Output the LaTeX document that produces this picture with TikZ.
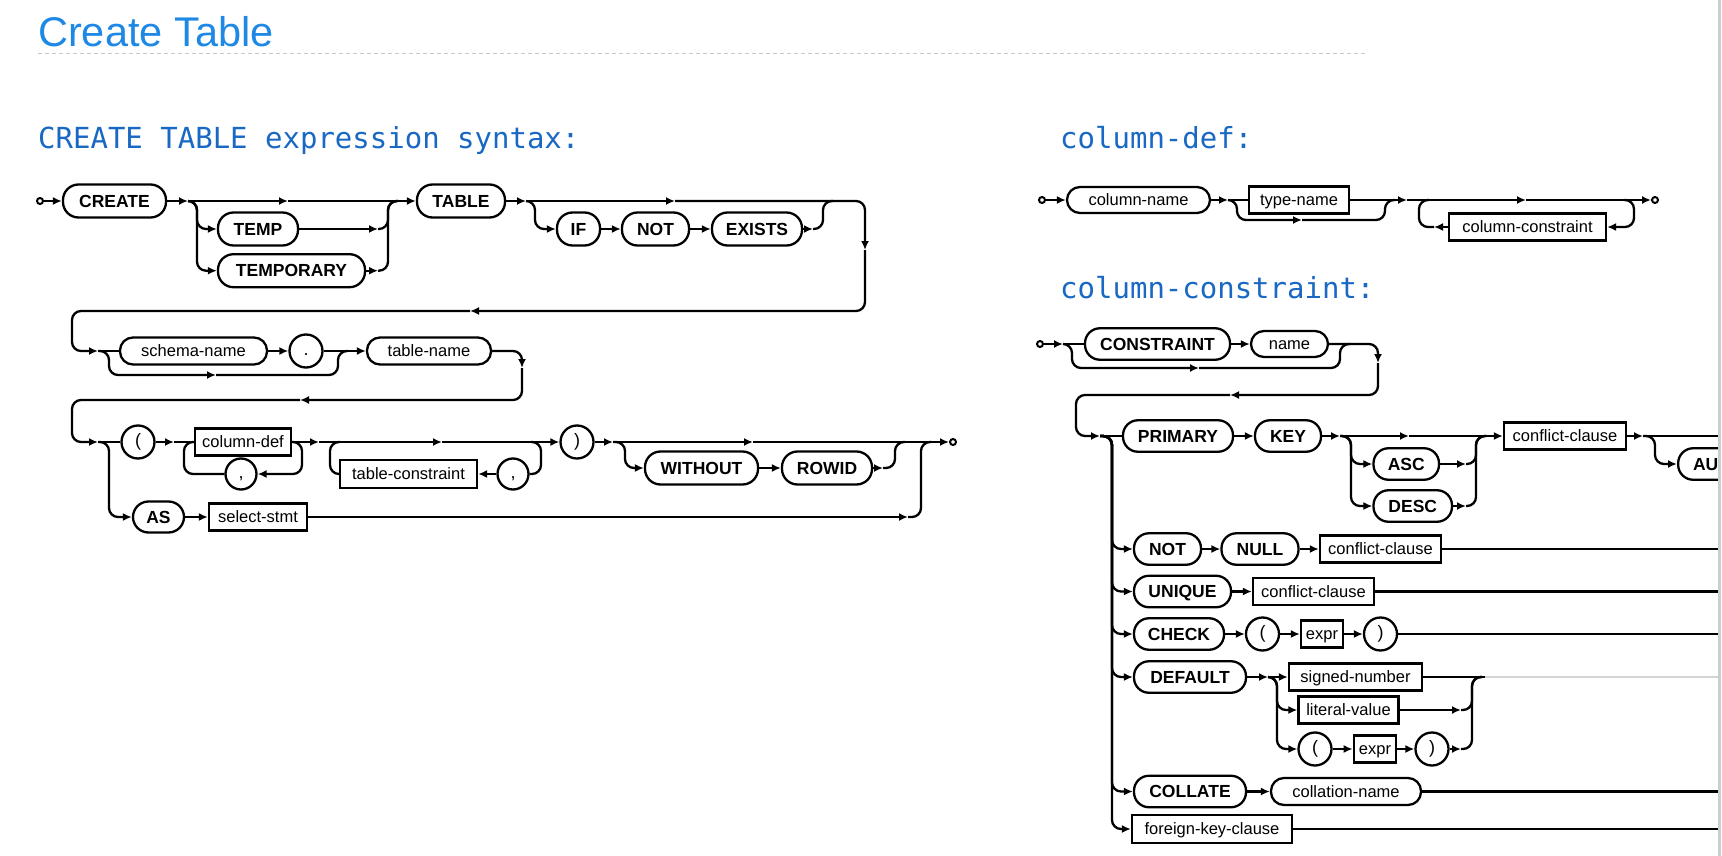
\documentclass[tikz,border=0pt]{standalone}
\usepackage{fontspec}
\setmainfont{Liberation Sans}
\newfontfamily\hdmono{DejaVu Sans Mono}
\usetikzlibrary{arrows.meta}
\definecolor{titleblue}{RGB}{30,136,229}
\definecolor{headblue}{RGB}{24,104,196}
\definecolor{sepgray}{RGB}{200,200,200}
\definecolor{edgegray}{RGB}{205,205,205}
\definecolor{fadegray}{RGB}{212,212,212}
\begin{document}
\begin{tikzpicture}[x=1pt,y=-1pt,
  rl/.style={line width=2.3pt, rounded corners=9pt},
  ar/.style={-{Latex[length=9pt,width=8pt]}},
  kw/.style={draw, line width=2.3pt, rounded corners=15.5pt, minimum height=33pt, inner sep=0pt,
     font=\fontsize{17.5}{20}\selectfont\bfseries, text height=12.5pt, text depth=0pt},
  kws/.style={kw, minimum height=31.5pt, rounded corners=15pt},
  nm/.style={draw, line width=2.3pt, rounded corners=13pt, minimum height=27pt, inner sep=0pt,
     font=\fontsize{16.5}{19}\selectfont, text height=11.8pt, text depth=0pt},
  nt/.style={draw, line width=2.3pt, minimum height=27pt, inner sep=0pt,
     font=\fontsize{16.5}{19}\selectfont, text height=11.8pt, text depth=0pt},
  ci/.style={draw, circle, line width=2.3pt, minimum size=33pt, inner sep=0pt,
     font=\fontsize{18}{20}\selectfont, text height=12.5pt, text depth=3.7pt},
  dt/.style={draw, circle, line width=2pt, minimum size=6pt, inner sep=0pt},
  hd/.style={anchor=base west, inner sep=0pt, text=headblue, font=\hdmono\fontsize{29}{32}\selectfont},
]
\useasboundingbox (0,0) rectangle (1722,856);
\fill[white] (0,0) rectangle (1722,856);

% ---------- header ----------
\node[anchor=base west, inner sep=0pt, text=titleblue, font=\fontsize{41.5}{48}\selectfont] (title) at (38,46.5) {Create Table};
\draw[sepgray, line width=1pt, dash pattern=on 4pt off 3pt] (38,53.5) -- (1367,53.5);
\node[hd] (h1) at (38,149) {CREATE TABLE expression syntax:};
\node[hd] (h2) at (1060,149) {column-def:};
\node[hd] (h3) at (1060,298.5) {column-constraint:};

% ---------- CREATE TABLE: row 1 ----------
\node[dt] (s1) at (40,201) {};
\node[kw, minimum width=103pt] (create) at (114.5,201) {CREATE};
\coordinate (c1) at (188,201);
\coordinate (m1) at (288,201);
\node[kw, minimum width=80pt] (temp) at (258,229) {TEMP};
\node[kw, minimum width=147pt] (temporary) at (291.5,270.7) {TEMPORARY};
\coordinate (j1a) at (378,229);
\coordinate (j1b) at (378,270.7);
\node[kw, minimum width=88pt] (table) at (461,201) {TABLE};
\coordinate (c2) at (526,201);
\coordinate (m2) at (675,201);
\node[kw, minimum width=43pt] (if) at (578.5,229) {IF};
\node[kw, minimum width=67pt] (not1) at (655.5,229) {NOT};
\node[kw, minimum width=90pt] (exists) at (757,229) {EXISTS};
\coordinate (j2) at (813,229);
\coordinate (dn1) at (865,250);
\coordinate (lf1) at (470,311);
\coordinate (c3) at (98,351);

\draw[rl,ar] (s1) -- (create);
\draw[rl,ar] (create.east) -- (c1);
\draw[rl,ar] (c1) -- (m1);
\draw[rl,ar] (m1) -- (table.west);
\draw[rl,ar] (c1) -- (197,201) -- (197,229) -- (temp.west);
\draw[rl,ar] (c1) -- (197,201) -- (197,270.7) -- (temporary.west);
\draw[rl,ar] (temp.east) -- (j1a);
\draw[rl] (j1a) -- (388,229) -- (388,201) -- (398,201);
\draw[rl,ar] (temporary.east) -- (j1b);
\draw[rl] (j1b) -- (388,270.7) -- (388,201) -- (398,201);
\draw[rl,ar] (table.east) -- (c2);
\draw[rl,ar] (c2) -- (m2);
\draw[rl,ar] (m2) -- (865,201) -- (dn1);
\draw[rl,ar] (dn1) -- (865,311) -- (lf1);
\draw[rl,ar] (lf1) -- (72,311) -- (72,351) -- (c3);
\draw[rl,ar] (c2) -- (535,201) -- (535,229) -- (if.west);
\draw[rl,ar] (if) -- (not1);
\draw[rl,ar] (not1) -- (exists);
\draw[rl,ar] (exists.east) -- (j2);
\draw[rl] (j2) -- (823,229) -- (823,201) -- (833,201);

% ---------- row 2 ----------
\node[nm, minimum width=147pt] (schema) at (193.5,351) {schema-name};
\node[ci] (dot) at (306,351) {.};
\node[nm, minimum width=124pt] (tname) at (429,351) {table-name};
\coordinate (mb) at (216,375);
\coordinate (dn2) at (522,368);
\coordinate (lf2) at (300,400);
\coordinate (c4) at (98,442);

\draw[rl] (c3) -- (schema.west);
\draw[rl,ar] (schema) -- (dot);
\draw[rl,ar] (dot) -- (tname);
\draw[rl,ar] (c3) -- (109,351) -- (109,375) -- (mb);
\draw[rl] (mb) -- (338,375) -- (338,351) -- (348,351);
\draw[rl,ar] (tname.east) -- (522,351) -- (dn2);
\draw[rl,ar] (dn2) -- (522,400) -- (lf2);
\draw[rl,ar] (lf2) -- (72,400) -- (72,442) -- (c4);

% ---------- row 3 ----------
\node[ci] (lp) at (138,442) {(};
\coordinate (c5) at (174,442);
\node[nt, minimum width=96pt] (cdef) at (243,442) {column-def};
\node[ci, minimum size=31pt] (cm1) at (241,474) {,};
\coordinate (c6) at (319,442);
\coordinate (m3) at (442,442);
\node[nt, minimum width=137pt, minimum height=28pt] (tcons) at (408.5,474) {table-constraint};
\node[ci, minimum size=31pt] (cm2) at (513,474) {,};
\node[ci] (rp) at (577,442) {)};
\coordinate (c7) at (613,442);
\coordinate (m4) at (753,442);
\node[kw, minimum width=113pt] (without) at (701.5,468) {WITHOUT};
\node[kw, minimum width=90pt] (rowid) at (827,468) {ROWID};
\coordinate (j3) at (883,468);
\node[dt] (e1) at (953,442) {};
\node[kw, minimum width=51pt, minimum height=31pt] (as) at (158.5,517) {AS};
\node[nt, minimum width=98pt] (sel) at (258,517) {select-stmt};
\coordinate (j4) at (908,517);

\draw[rl] (c4) -- (lp.west);
\draw[rl,ar] (c4) -- (109,442) -- (109,517) -- (as.west);
\draw[rl,ar] (lp.east) -- (c5);
\draw[rl] (c5) -- (cdef.west);
\draw[rl,ar] (cdef.east) -- (302,442) -- (302,474) -- (cm1.east);
\draw[rl] (cm1.west) -- (184,474) -- (184,442) -- (cdef.west);
\draw[rl,ar] (cdef.east) -- (c6);
\draw[rl,ar] (c6) -- (m3);
\draw[rl,ar] (m3) -- (rp.west);
\draw[rl] (531,442) -- (541,442) -- (541,474) -- (cm2.east);
\draw[rl,ar] (cm2) -- (tcons);
\draw[rl] (tcons.west) -- (330,474) -- (330,442) -- (340,442);
\draw[rl,ar] (rp.east) -- (c7);
\draw[rl,ar] (c7) -- (m4);
\draw[rl,ar] (m4) -- (e1.west);
\draw[rl,ar] (c7) -- (625,442) -- (625,468) -- (without.west);
\draw[rl,ar] (without) -- (rowid);
\draw[rl,ar] (rowid.east) -- (j3);
\draw[rl] (j3) -- (895,468) -- (895,442) -- (905,442);
\draw[rl,ar] (as) -- (sel);
\draw[rl,ar] (sel.east) -- (j4);
\draw[rl] (j4) -- (921,517) -- (921,442) -- (931,442);

% ---------- column-def ----------
\node[dt] (s2) at (1042,200) {};
\node[nm, minimum width=143pt, minimum height=26pt] (cname) at (1138.5,200) {column-name};
\coordinate (d1) at (1228,200);
\node[nt, minimum width=100pt] (typen) at (1299,200) {type-name};
\coordinate (mt) at (1302,220);
\coordinate (d2) at (1407,200);
\coordinate (md) at (1526,200);
\node[dt] (e2) at (1655,200) {};
\node[nt, minimum width=157pt] (ccons) at (1527.5,227) {column-constraint};
\coordinate (lc) at (1434,227);

\draw[rl,ar] (s2) -- (cname);
\draw[rl,ar] (cname.east) -- (d1);
\draw[rl] (d1) -- (typen.west);
\draw[rl,ar] (d1) -- (1237,200) -- (1237,220) -- (mt);
\draw[rl] (mt) -- (1385,220) -- (1385,200) -- (1395,200);
\draw[rl,ar] (typen.east) -- (d2);
\draw[rl,ar] (d2) -- (md);
\draw[rl,ar] (md) -- (e2.west);
\draw[rl,ar] (1624,200) -- (1634,200) -- (1634,227) -- (ccons.east);
\draw[rl,ar] (ccons.west) -- (lc);
\draw[rl] (lc) -- (1419,227) -- (1419,200) -- (1429,200);

% ---------- column-constraint ----------
\begin{scope}
\clip (1000,300) rectangle (1718,856);
\node[dt] (s3) at (1040,344) {};
\coordinate (f1) at (1063,344);
\node[kws, minimum width=145pt] (constraint) at (1157.5,344) {CONSTRAINT};
\node[nm, minimum width=77pt, minimum height=26pt] (cnm) at (1289.5,344) {name};
\coordinate (mb2) at (1199,368);
\coordinate (dn3) at (1378,363);
\coordinate (lf3) at (1230,395);
\coordinate (f2) at (1100,436);
\node[kws, minimum width=110pt] (primary) at (1178,436) {PRIMARY};
\node[kws, minimum width=66pt] (key) at (1288,436) {KEY};
\coordinate (f3) at (1340,436);
\coordinate (m5) at (1409,436);
\node[kws, minimum width=65.5pt] (asc) at (1406.25,464) {ASC};
\node[kws, minimum width=78.5pt] (desc) at (1412.75,506) {DESC};
\coordinate (j5) at (1466,464);
\coordinate (j6) at (1466,506);
\node[nt, minimum width=122pt] (cc1) at (1565,436) {conflict-clause};
\coordinate (f4) at (1643,436);
\node[kws, minimum width=183pt, anchor=west] (auto) at (1677,464) {AUTOINCREMENT};
\node[kws, minimum width=67pt] (notk) at (1167.5,549) {NOT};
\node[kws, minimum width=77pt] (null) at (1260,549) {NULL};
\node[nt, minimum width=121pt] (cc2) at (1380.5,549) {conflict-clause};
\node[kws, minimum width=97pt] (unique) at (1182.5,591.5) {UNIQUE};
\node[nt, minimum width=121pt] (cc3) at (1313.5,591.5) {conflict-clause};
\node[kws, minimum width=90pt] (check) at (1179,634) {CHECK};
\node[ci] (lp2) at (1262.5,634) {(};
\node[nt, minimum width=42pt] (ex1) at (1322,634) {expr};
\node[ci] (rp2) at (1380.5,634) {)};
\node[kws, minimum width=112pt] (default) at (1190,677) {DEFAULT};
\coordinate (g1) at (1268,677);
\node[nt, minimum width=133pt] (snum) at (1355.5,677) {signed-number};
\node[nt, minimum width=100pt] (lit) at (1348.5,710) {literal-value};
\node[ci] (lp3) at (1315,749) {(};
\node[nt, minimum width=42.5pt] (ex2) at (1375,749) {expr};
\node[ci] (rp3) at (1432,749) {)};
\coordinate (j7) at (1461,710);
\coordinate (j8) at (1461,749);
\node[kws, minimum width=112pt] (collate) at (1190,791.5) {COLLATE};
\node[nm, minimum width=150pt] (coll) at (1346,791.5) {collation-name};
\node[nt, minimum width=160pt, minimum height=28pt] (fk) at (1212,829) {foreign-key-clause};
\coordinate (xr1) at (1730,436);
\coordinate (xr2) at (1730,549);
\coordinate (xr3) at (1730,591.5);
\coordinate (xr4) at (1730,634);
\coordinate (xr5) at (1730,677);
\coordinate (xr6) at (1730,791.5);
\coordinate (xr7) at (1730,829);
\coordinate (gs) at (1485,677);

\draw[rl,ar] (s3) -- (f1);
\draw[rl] (f1) -- (constraint.west);
\draw[rl,ar] (constraint) -- (cnm);
\draw[rl,ar] (cnm.east) -- (1378,344) -- (dn3);
\draw[rl,ar] (dn3) -- (1378,395) -- (lf3);
\draw[rl,ar] (lf3) -- (1076,395) -- (1076,436) -- (f2);
\draw[rl,ar] (f1) -- (1072,344) -- (1072,368) -- (mb2);
\draw[rl] (mb2) -- (1340,368) -- (1340,344) -- (1350,344);

\draw[rl] (f2) -- (primary.west);
\draw[rl,ar] (primary) -- (key);
\draw[rl,ar] (key.east) -- (f3);
\draw[rl,ar] (f3) -- (m5);
\draw[rl,ar] (m5) -- (cc1.west);
\draw[rl,ar] (f3) -- (1351,436) -- (1351,464) -- (asc.west);
\draw[rl,ar] (f3) -- (1351,436) -- (1351,506) -- (desc.west);
\draw[rl,ar] (asc.east) -- (j5);
\draw[rl] (j5) -- (1476,464) -- (1476,436) -- (1486,436);
\draw[rl,ar] (desc.east) -- (j6);
\draw[rl] (j6) -- (1476,506) -- (1476,436) -- (1486,436);
\draw[rl,ar] (cc1.east) -- (f4);
\draw[rl] (f4) -- (xr1);
\draw[rl,ar] (f4) -- (1655,436) -- (1655,464) -- (auto.west);

\draw[rl,ar] (f2) -- (1112,436) -- (1112,549) -- (notk.west);
\draw[rl,ar] (f2) -- (1112,436) -- (1112,591.5) -- (unique.west);
\draw[rl,ar] (f2) -- (1112,436) -- (1112,634) -- (check.west);
\draw[rl,ar] (f2) -- (1112,436) -- (1112,677) -- (default.west);
\draw[rl,ar] (f2) -- (1112,436) -- (1112,791.5) -- (collate.west);
\draw[rl,ar] (f2) -- (1112,436) -- (1112,829) -- (fk.west);

\draw[rl,ar] (notk) -- (null);
\draw[rl,ar] (null) -- (cc2);
\draw[rl] (cc2.east) -- (xr2);
\draw[rl,ar] (unique) -- (cc3);
\draw[rl] (cc3.east) -- (xr3);
\draw[rl,ar] (check) -- (lp2);
\draw[rl,ar] (lp2) -- (ex1);
\draw[rl,ar] (ex1) -- (rp2);
\draw[rl] (rp2.east) -- (xr4);
\draw[rl,ar] (default.east) -- (g1);
\draw[rl,ar] (g1) -- (snum.west);
\draw[rl,ar] (g1) -- (1277,677) -- (1277,710) -- (lit.west);
\draw[rl,ar] (g1) -- (1277,677) -- (1277,749) -- (lp3.west);
\draw[rl,ar] (lp3) -- (ex2);
\draw[rl,ar] (ex2) -- (rp3);
\draw[rl,ar] (lit.east) -- (j7);
\draw[rl,ar] (rp3.east) -- (j8);
\draw[rl] (j7) -- (1472,710) -- (1472,677) -- (1482,677);
\draw[rl] (j8) -- (1472,749) -- (1472,677) -- (1482,677);
\draw[rl] (snum.east) -- (gs);
\draw[line width=2pt, fadegray] (gs) -- (xr5);
\draw[rl,ar] (collate) -- (coll);
\draw[rl] (coll.east) -- (xr6);
\draw[rl] (fk.east) -- (xr7);
\end{scope}

% right page edge
\draw[edgegray, line width=2.5pt] (1719.5,0) -- (1719.5,856);
\end{tikzpicture}
\end{document}
